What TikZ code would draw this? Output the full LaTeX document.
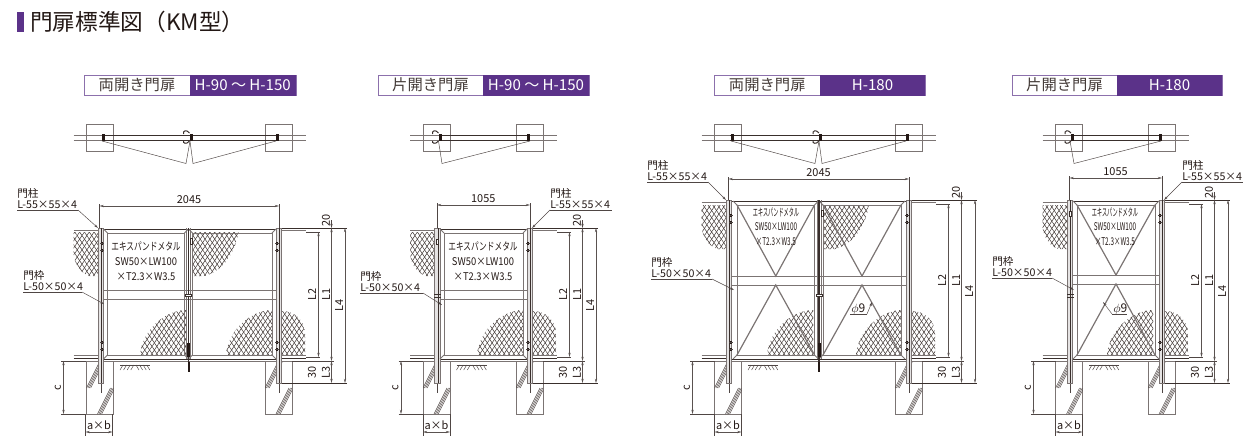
\documentclass[tikz,border=0pt]{standalone}
\usepackage{fontspec}
\usetikzlibrary{arrows.meta,patterns.meta}
\setmainfont{Noto Sans CJK JP}
\newfontfamily\kanawide[FakeStretch=.72]{Noto Sans CJK JP}
\newfontfamily\latinwide[FakeStretch=.88]{Noto Sans CJK JP}
\newfontfamily\kanaslim[FakeStretch=.48]{Noto Sans CJK JP}
\newfontfamily\latinslim[FakeStretch=.6]{Noto Sans CJK JP}
\definecolor{gatepurple}{HTML}{5B3289}
\definecolor{inkline}{HTML}{231815}
\tikzset{
  steel/.style={draw=inkline!60,line width=.6pt},
  steeldark/.style={draw=inkline!90,line width=.75pt},
  thinline/.style={draw=inkline!80,line width=.35pt},
  dimline/.style={draw=inkline!75,line width=.35pt,{Stealth[length=3.2pt,width=1.7pt]}-{Stealth[length=3.2pt,width=1.7pt]}},
  tipline/.style={draw=inkline!80,line width=.35pt,-{Stealth[length=3.2pt,width=1.7pt]}},
  dimtext/.style={inner sep=0pt,text=inkline,font=\fontsize{8.2}{9}\selectfont},
  notetext/.style={inner sep=0pt,anchor=base west,text=inkline,font=\fontsize{8}{9}\selectfont},
}
% header bar
\newcommand{\doorheader}[6]{
  \draw[draw=gatepurple!70,line width=.5pt,fill=white] (#2,75) rectangle (#4,95.5);
  \fill[gatepurple] (#3,75) rectangle (#4,95.5);
  \node[inner sep=0pt,text=inkline!85,font=\fontsize{11.5}{12}\selectfont] (#1type) at ({(#2+#3)/2},85) {#5};
  \node[inner sep=0pt,text=white,font=\fontsize{11.3}{12}\selectfont] (#1range) at ({(#3+#4)/2},85) {#6};
}
% plan view
\newcommand{\planbase}[3]{
  \draw[steel] (#2-11.5,124) rectangle (#2+15.5,151); % post L
  \draw[steel] (#3-11,124) rectangle (#3+16,151); % post R
  \draw[steel] (#2-24.5,135) -- (#3+29.5,135) (#2-24.5,140) -- (#3+29.5,140);
  \draw[steeldark] (#2+4,135) -- (#3+2,135) (#2+4,140) -- (#3+2,140);
  \fill[inkline] (#3,134) rectangle (#3+2.5,141);
}
\newcommand{\planlatch}[1]{
  \fill[inkline] (#1,134) rectangle (#1+3,141);
  \draw[steeldark] (#1,133) .. controls (#1-3,129) and (#1-7,131) .. (#1-6,134);
  \draw[steeldark] (#1,141) .. controls (#1-3,145) and (#1-7,143) .. (#1-6,141);
}
\newcommand{\planhinge}[1]{\fill[inkline] (#1,134) rectangle (#1+2.5,141);}
% mesh
\newcommand{\meshfill}[1]{
  \fill[pattern={Lines[angle=56,distance=3pt,line width=.4pt]},pattern color=inkline!85] #1;
  \fill[pattern={Lines[angle=-56,distance=3pt,line width=.4pt]},pattern color=inkline!85] #1;
}
\newcommand{\meshleft}[2]{\meshfill{(#1-24.5,#2+6) -- (#1,#2+6) -- (#1,#2+50) -- (#1-9,#2+50) .. controls (#1-19,#2+46) and (#1-24.5,#2+36) .. (#1-24.5,#2+25) -- cycle}}
\newcommand{\meshtop}[2]{\meshfill{(#1+4,#2+6) -- (#1+50,#2+6) .. controls (#1+46,#2+30) and (#1+32,#2+46) .. (#1+16,#2+50) -- (#1+4,#2+50) -- cycle}}
\newcommand{\meshbelow}[1]{\meshfill{(#1-46,355) .. controls (#1-44,332) and (#1-24,312) .. (#1-2,310) -- (#1,310) -- (#1,355) -- cycle}}
\newcommand{\meshoutside}[1]{
  \meshfill{(#1+6,311) .. controls (#1+18,311) and (#1+29,320) .. (#1+29,334) -- (#1+29,355) -- (#1+6,355) -- cycle}
}
% footing, fence and posts
\newcommand{\footing}[1]{
  \draw[steel] (#1,361) rectangle (#1+27,414);
  \begin{scope}
    \clip (#1,361) rectangle (#1+27,414);
    \foreach \d in {0,1.4,2.8,4.2} {
      \draw[thinline] (#1+\d,388) -- (#1+13+\d,362);
      \draw[thinline] (#1+11+\d,414) -- (#1+24+\d,388);
    }
  \end{scope}
}
\newcommand{\gatepost}[3]{
  \draw[thinline] (#1+3,#3) -- (#1+3,#3+10);
  \draw[steel,fill=inkline!12] (#1,#2) rectangle (#1+5.5,#3);
  \draw[steeldark] (#1+3.6,#2) -- (#1+3.6,#3);
}
\newcommand{\hinge}[2]{
  \fill[inkline] (#1-1,#2) rectangle (#1+1,#2+3);
  \fill[inkline] (#1-1,#2+7) rectangle (#1+1,#2+10);
  \draw[thinline] (#1-2,#2+1) -- (#1+2,#2+1) (#1-2,#2+8) -- (#1+2,#2+8);
}
\newcommand{\latch}[2]{
  \draw[steeldark,fill=white] (#1-1,#2+11) rectangle (#1+1.5,#2+16);
  \draw[steeldark] (#1-3,294) -- (#1+4,294) (#1-3,297) -- (#1+4,297);
}
\newcommand{\gateelev}[5]{ % id, xl, xr, top, mid rail
  \footing{#2-11.5}
  \footing{#3-11}
  \draw[steel] (#2-24.5,#4+2) -- (#2,#4+2) (#3+5.5,#4+2) -- (#3+29.5,#4+2);
  \draw[steel] (#2-24.5,355) -- (#2,355) (#3+5.5,355) -- (#3+29.5,355);
  \draw[steeldark] (#2-24.5,358) -- (#2,358) (#3+5.5,358) -- (#3+29.5,358);
  \draw[steel] (#2-24.5,361) -- (#2-11.5,361) (#3+16,361) -- (#3+29.5,361);
  \draw[steeldark] (#2+5.5,#4+1) -- (#3,#4+1) (#2+5.5,359) -- (#3,359);
  \draw[steel] (#2+5.5,#4+1) -- (#2+5.5,359) (#3,#4+1) -- (#3,359);
  \draw[steel] (#2+15.5,361) -- (#3-11,361);
  \draw[thinline] (#2+22,365) -- (#2+52,365);
  \foreach \i in {0,...,3} {
    \draw[thinline] (#2+22+\i*3.6,370) -- (#2+25+\i*3.6,365);
    \draw[thinline] (#2+38+\i*3.6,365) -- (#2+41+\i*3.6,370);
  }
  \gatepost{#2}{#4}{383}
  \gatepost{#3}{#4}{383}
  \hinge{#3+1}{#4+14}
  \hinge{#3+1}{341}
  \draw[steel] (#2+5.5,#5) -- (#3,#5) (#2+5.5,#5+9) -- (#3,#5+9);
}
\newcommand{\leafpanel}[3]{ % x0, x1, top
  \draw[steel] (#1,#3+5) rectangle (#2,355);
  \draw[steel] (#1,#3+5) -- ++(-4,-4) (#2,#3+5) -- ++(4,-4) (#1,355) -- ++(-4,4) (#2,355) -- ++(4,4);
}
\newcommand{\crossbrace}[4]{ % x0, x1, top, mid rail
  \draw[steel,line width=.9pt] (#1,#3+5) -- ({(#1+#2)/2},#4) -- (#2,#3+5);
  \draw[steel,line width=.9pt] (#1,355) -- ({(#1+#2)/2},#4+9) -- (#2,355);
}
\newcommand{\centerbar}[2]{
  \draw[steel] (#1-2,#2) -- (#1-2,359) (#1+2,#2) -- (#1+2,359);
  \draw[steeldark,line width=1.1pt] (#1,#2) -- (#1,372);
  \draw[steeldark,fill=white] (#1-3,294) rectangle (#1+3,296);
  \draw[steeldark] (#1+2,#2+10) rectangle (#1+4,#2+16);
  \fill[inkline] (#1-1.5,343) rectangle (#1+1.5,357);
  \fill[inkline] (#1-1,362) rectangle (#1+1,372);
}
% dimensions
\newcommand{\gatedims}[6]{ % id, xl, xr, top, width y, width text
  \coordinate (#1wa) at (#2+2.5,#5);
  \coordinate (#1wb) at (#3+3,#5);
  \draw[thinline] (#2+2.5,#5-2) -- (#2+2.5,#4) (#3+3,#5-2) -- (#3+3,#4);
  \draw[dimline] (#1wa) -- (#1wb);
  \node[dimtext] (#1width) at ({(#2+#3)/2+2.5},#5-6) {#6};
  \draw[steeldark] (#3+6,#4) -- (#3+71,#4) (#3+6,383) -- (#3+71,383);
  \draw[thinline] (#3+30,#4+4) -- (#3+44,#4+4) (#3+30,357) -- (#3+44,357) (#3+16,361) -- (#3+58,361);
  \coordinate (#1lt) at (#3+42.5,#4+4);
  \coordinate (#1lb) at (#3+42.5,357);
  \coordinate (#1mt) at (#3+55.5,#4);
  \coordinate (#1mc) at (#3+55.5,361);
  \coordinate (#1mb) at (#3+55.5,383);
  \coordinate (#1ft) at (#3+69,#4);
  \coordinate (#1fb) at (#3+69,383);
  \draw[dimline] (#1lt) -- (#1lb);
  \draw[dimline] (#1mt) -- (#1mc);
  \draw[dimline] (#1mc) -- (#1mb);
  \draw[dimline] (#1ft) -- (#1fb);
  \draw[tipline] (#3+55.5,#4-8) -- (#1mt);
  \node[dimtext,rotate=90] (#1twenty) at (#3+50,#4-8) {20};
  \node[dimtext,rotate=90] (#1thirty) at (#3+36,372) {30};
  \node[dimtext,rotate=90] (#1lthree) at (#3+50,372) {L3};
  \node[dimtext,rotate=90] (#1ltwo) at (#3+36,{(#4+357)/2+2}) {L2};
  \node[dimtext,rotate=90] (#1lone) at (#3+50,{(#4+357)/2+2}) {L1};
  \node[dimtext,rotate=90] (#1lfour) at (#3+63,{(#4+383)/2}) {L4};
  % footing
  \coordinate (#1ca) at (#2-33.5,361);
  \coordinate (#1cb) at (#2-33.5,414);
  \draw[thinline] (#2-36,361) -- (#2-11.5,361) (#2-36,414) -- (#2-11.5,414);
  \draw[dimline] (#1ca) -- (#1cb);
  \node[dimtext,rotate=90] (#1c) at (#2-39,388) {c};
  \coordinate (#1fa) at (#2-11.5,432);
  \coordinate (#1fc) at (#2+15.5,432);
  \draw[thinline] (#2-11.5,414) -- (#2-11.5,436) (#2+15.5,414) -- (#2+15.5,436);
  \draw[dimline] (#1fa) -- (#1fc);
  \node[dimtext] (#1ab) at (#2+2,425) {a×b};
}
% leader: id, x0, x1, y, start x, tip, text, size
\newcommand{\partnote}[8]{
  \node[notetext] (#1name) at (#2,#4-12.5) {#7};
  \node[notetext] (#1size) at (#2,#4-1.7) {#8};
  \coordinate (#1a) at (#2,#4);
  \coordinate (#1b) at (#3,#4);
  \coordinate (#1c) at (#5,#4);
  \coordinate (#1d) at (#6);
  \draw[thinline] (#1a) -- (#1b);
  \draw[tipline] (#1c) -- (#1d);
}
% phi: id, x0, x1, y, start x, tip
\newcommand{\phinote}[6]{
  \node[notetext,font=\fontsize{9}{9}\selectfont] (#1) at (#2+1,#4-1.7) {$\phi$9};
  \coordinate (#1a) at (#2,#4);
  \coordinate (#1b) at (#3,#4);
  \coordinate (#1c) at (#5,#4);
  \coordinate (#1d) at (#6);
  \draw[thinline] (#1a) -- (#1b);
  \draw[tipline] (#1c) -- (#1d);
}
% mesh label: id, x, y, kana font, latin font, leading
\newcommand{\meshlabel}[6]{
  \node[dimtext,align=center,font=\fontsize{8}{#6}\selectfont] (#1mesh) at (#2,#3) {{#4エキスパンドメタル}\\{#5SW50×LW100}\\{#5×T2.3×W3.5}};
}
\begin{document}
\begin{tikzpicture}[x=.75pt,y=-.75pt]
  \useasboundingbox (0,0) rectangle (1257,443);
  \fill[gatepurple] (17,12) rectangle (24,32);
  \node[anchor=west,inner sep=0pt,text=inkline,font=\fontsize{17}{18}\selectfont] (title) at (30,22) {門扉標準図（KM型）};

  \doorheader{ga}{84.5}{189.5}{296}{両開き門扉}{H-90 ～ H-150}
  \doorheader{gb}{378}{483}{589}{片開き門扉}{H-90 ～ H-150}
  \doorheader{gc}{714.5}{820}{925}{両開き門扉}{H-180}
  \doorheader{gd}{1012}{1117}{1222}{片開き門扉}{H-180}

  % gate A
  \planbase{ga}{98}{276}
  \planlatch{189.5}
  \planhinge{102}
  \coordinate (gaswa) at (102,141); \coordinate (gaswb) at (186,163.5);
  \coordinate (gaswc) at (190,141); \coordinate (gaswd) at (193,163.5);
  \coordinate (gaswe) at (276,141);
  \draw[thinline] (gaswa) -- (gaswb) -- (gaswc) -- (gaswd) -- (gaswe);
  \meshleft{98}{226}
  \meshtop{188.5}{226}
  \meshbelow{186}
  \meshbelow{272}
  \meshoutside{276}
  \gateelev{ga}{98}{276}{228}{290}
  \leafpanel{107.5}{184.5}{228}
  \leafpanel{192.5}{272}{228}
  \centerbar{188.5}{228}
  \hinge{102}{242}
  \hinge{102}{341}
  \gatedims{ga}{97}{276}{228}{206}{2045}
  \partnote{gapost}{17}{78}{210}{78}{98,228}{門柱}{L-55×55×4}
  \partnote{gaframe}{23}{82}{292}{82}{104,304}{門枠}{L-50×50×4}
  \meshlabel{ga}{146}{261}{\kanawide}{\latinwide}{11.3}

  % gate B
  \planbase{gb}{434.5}{527}
  \planlatch{438.5}
  \coordinate (gbswa) at (530,141); \coordinate (gbswb) at (442,163.5);
  \coordinate (gbswc) at (438.5,141);
  \draw[thinline] (gbswa) -- (gbswb) -- (gbswc);
  \meshleft{434.5}{226}
  \meshbelow{523}
  \meshoutside{527}
  \gateelev{gb}{434.5}{527}{228}{290}
  \leafpanel{444}{523}{228}
  \latch{437}{228}
  \gatedims{gb}{434.5}{527}{228}{205}{1055}
  \partnote{gbpost}{550}{612}{210}{550}{532,228}{門柱}{L-55×55×4}
  \partnote{gbframe}{360}{423}{293}{423}{442,305}{門枠}{L-50×50×4}
  \meshlabel{gb}{483}{261}{\kanawide}{\latinwide}{11.3}

  % gate C
  \planbase{gc}{726}{906}
  \planlatch{819}
  \planhinge{731}
  \coordinate (gcswa) at (731,141); \coordinate (gcswb) at (815,163.5);
  \coordinate (gcswc) at (819,141); \coordinate (gcswd) at (822,163.5);
  \coordinate (gcswe) at (906,141);
  \draw[thinline] (gcswa) -- (gcswb) -- (gcswc) -- (gcswd) -- (gcswe);
  \meshleft{726}{199}
  \meshtop{819}{199}
  \meshbelow{813}
  \meshbelow{902}
  \meshoutside{906}
  \gateelev{gc}{726}{906}{200}{276}
  \leafpanel{737}{814.5}{200}
  \leafpanel{823}{901}{200}
  \crossbrace{737}{814.5}{200}{276}
  \crossbrace{823}{901}{200}{276}
  \centerbar{819}{200}
  \hinge{731}{214}
  \hinge{731}{341}
  \gatedims{gc}{726}{906}{200}{179}{2045}
  \partnote{gcpost}{647}{708}{182}{708}{726,200}{門柱}{L-55×55×4}
  \partnote{gcframe}{651}{712}{279}{712}{734,290}{門枠}{L-50×50×4}
  \phinote{gcphi}{850}{867}{314}{867}{872,302}
  \meshlabel{gc}{776}{226.5}{\kanaslim}{\latinslim}{10.7}

  % gate D
  \planbase{gd}{1067}{1159}
  \planlatch{1071}
  \coordinate (gdswa) at (1161,141); \coordinate (gdswb) at (1074,163.5);
  \coordinate (gdswc) at (1070,141);
  \draw[thinline] (gdswa) -- (gdswb) -- (gdswc);
  \meshleft{1067}{199}
  \meshbelow{1153}
  \meshoutside{1159}
  \gateelev{gd}{1067}{1159}{200}{275}
  \leafpanel{1077}{1155}{200}
  \crossbrace{1077}{1155}{200}{275}
  \latch{1070}{200}
  \gatedims{gd}{1067}{1159}{200}{178}{1055}
  \partnote{gdpost}{1182}{1243}{182}{1182}{1164,200}{門柱}{L-55×55×4}
  \partnote{gdframe}{992}{1052}{278}{1052}{1074,290}{門枠}{L-50×50×4}
  \phinote{gdphi}{1112}{1127}{314}{1112}{1103,302}
  \meshlabel{gd}{1115}{226.5}{\kanaslim}{\latinslim}{10.7}
\end{tikzpicture}
\end{document}
